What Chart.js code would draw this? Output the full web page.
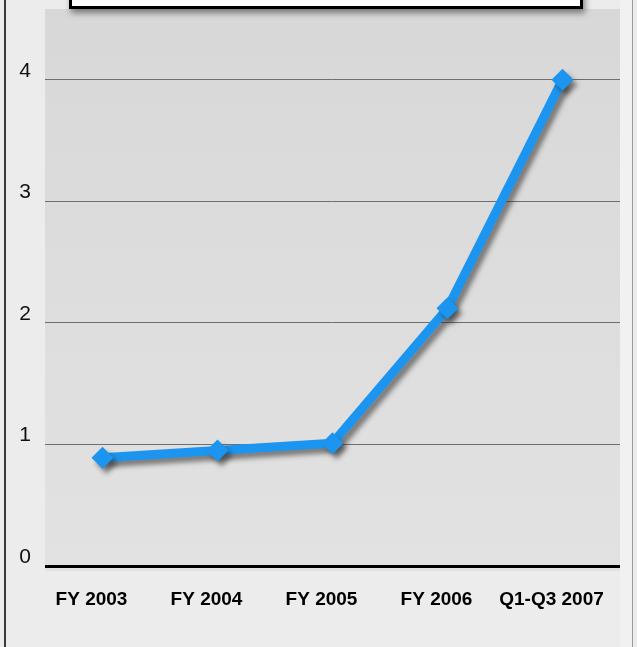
<!DOCTYPE html>
<html>
<head>
<meta charset="utf-8">
<script src="https://cdn.jsdelivr.net/npm/chart.js@4/dist/chart.umd.min.js"></script>
<style>
html, body { margin: 0; padding: 0; background: #ececec; }
#wrap { width: 637px; height: 647px; }
</style>
</head>
<body>
<div id="wrap"><canvas id="growthChart"></canvas></div>
<script>
// data
const periods = ["FY 2003", "FY 2004", "FY 2005", "FY 2006", "Q1-Q3 2007"];
const values = [0.89, 0.95, 1.01, 2.12, 4.0];
const yTicks = [0, 1, 2, 3, 4];

const narrow = "'Liberation Sans', Arial, sans-serif";

// panel, plot background and the top title box
const panelPlugin = {
  id: 'panel',
  beforeDraw(chart){
    const ctx = chart.ctx;
    const a = chart.chartArea;
    ctx.save();
    ctx.fillStyle = '#ececec';
    ctx.fillRect(0, 0, chart.width, chart.height);
    ctx.fillStyle = '#f1f1f1';
    ctx.fillRect(620, 0, 12, chart.height);
    // outer borders
    ctx.fillStyle = '#3a3a3a';
    ctx.fillRect(4, 0, 2, chart.height);
    ctx.fillStyle = '#9a9a9a';
    ctx.fillRect(632, 0, 1, chart.height);
    // plot area
    const g = ctx.createLinearGradient(0, 9, 0, a.bottom + 5);
    g.addColorStop(0, '#d8d8d8');
    g.addColorStop(1, '#e2e2e2');
    ctx.fillStyle = g;
    ctx.fillRect(a.left, 9, a.right - a.left, a.bottom + 5 - 9);
    // title box (cut off at the top)
    ctx.shadowColor = 'rgba(0,0,0,0.45)';
    ctx.shadowBlur = 6;
    ctx.shadowOffsetX = 2;
    ctx.shadowOffsetY = 4;
    ctx.fillStyle = '#ffffff';
    ctx.fillRect(69, -10, 514, 19);
    ctx.shadowColor = 'transparent';
    ctx.strokeStyle = '#000000';
    ctx.lineWidth = 3;
    ctx.strokeRect(70.5, -10, 511, 17.5);
    ctx.restore();
  }
};

// soft shadow under the line and markers
const shadowPlugin = {
  id: 'lineShadow',
  beforeDatasetsDraw(chart){
    const ctx = chart.ctx;
    ctx.save();
    ctx.shadowColor = 'rgba(40,40,40,0.55)';
    ctx.shadowBlur = 5;
    ctx.shadowOffsetX = 4;
    ctx.shadowOffsetY = 5;
  },
  afterDatasetsDraw(chart){
    chart.ctx.restore();
  }
};

const growth = document.getElementById('growthChart');

if(growth){

new Chart(growth,{

type:'line',

data:{
labels: periods,
datasets:[{
data: values,
borderColor: '#1b95ef',
backgroundColor: '#1b95ef',
borderWidth: 9,
tension: 0,
pointStyle: 'rectRot',
pointRadius: 11,
pointHoverRadius: 11,
pointBorderWidth: 0,
fill: false
}]
},

options:{
responsive: true,
maintainAspectRatio: false,
animation: false,
layout: { padding: { top: 19, right: 17, left: 0, bottom: 0 } },
plugins: {
legend: { display: false },
tooltip: { enabled: false }
},
scales: {
x: {
offset: true,
grid: { display: false, drawTicks: false },
border: { display: false },
ticks: {
color: '#000000',
padding: 22,
labelOffset: -11,
maxRotation: 0,
autoSkip: false,
font: { family: narrow, size: 19, weight: 'bold' }
},
afterFit(scale){
scale.height = 81;
scale.paddingLeft = 0;
scale.paddingRight = 0;
}
},
y: {
min: 0,
max: 4.5,
afterBuildTicks(scale){
scale.ticks = yTicks.map(v => ({ value: v }));
},
grid: {
drawTicks: false,
color: ctx => ctx.tick && ctx.tick.value === 0 ? '#000000' : '#6e6e6e',
lineWidth: ctx => ctx.tick && ctx.tick.value === 0 ? 3 : 1
},
border: { display: false },
ticks: {
color: '#111111',
padding: 14,
labelOffset: -9,
font: { family: narrow, size: 21 }
},
afterFit(scale){
scale.width = 45;
scale.paddingTop = 0;
scale.paddingBottom = 0;
}
}
}
},

plugins: [panelPlugin, shadowPlugin]

});

}
</script>
</body>
</html>
